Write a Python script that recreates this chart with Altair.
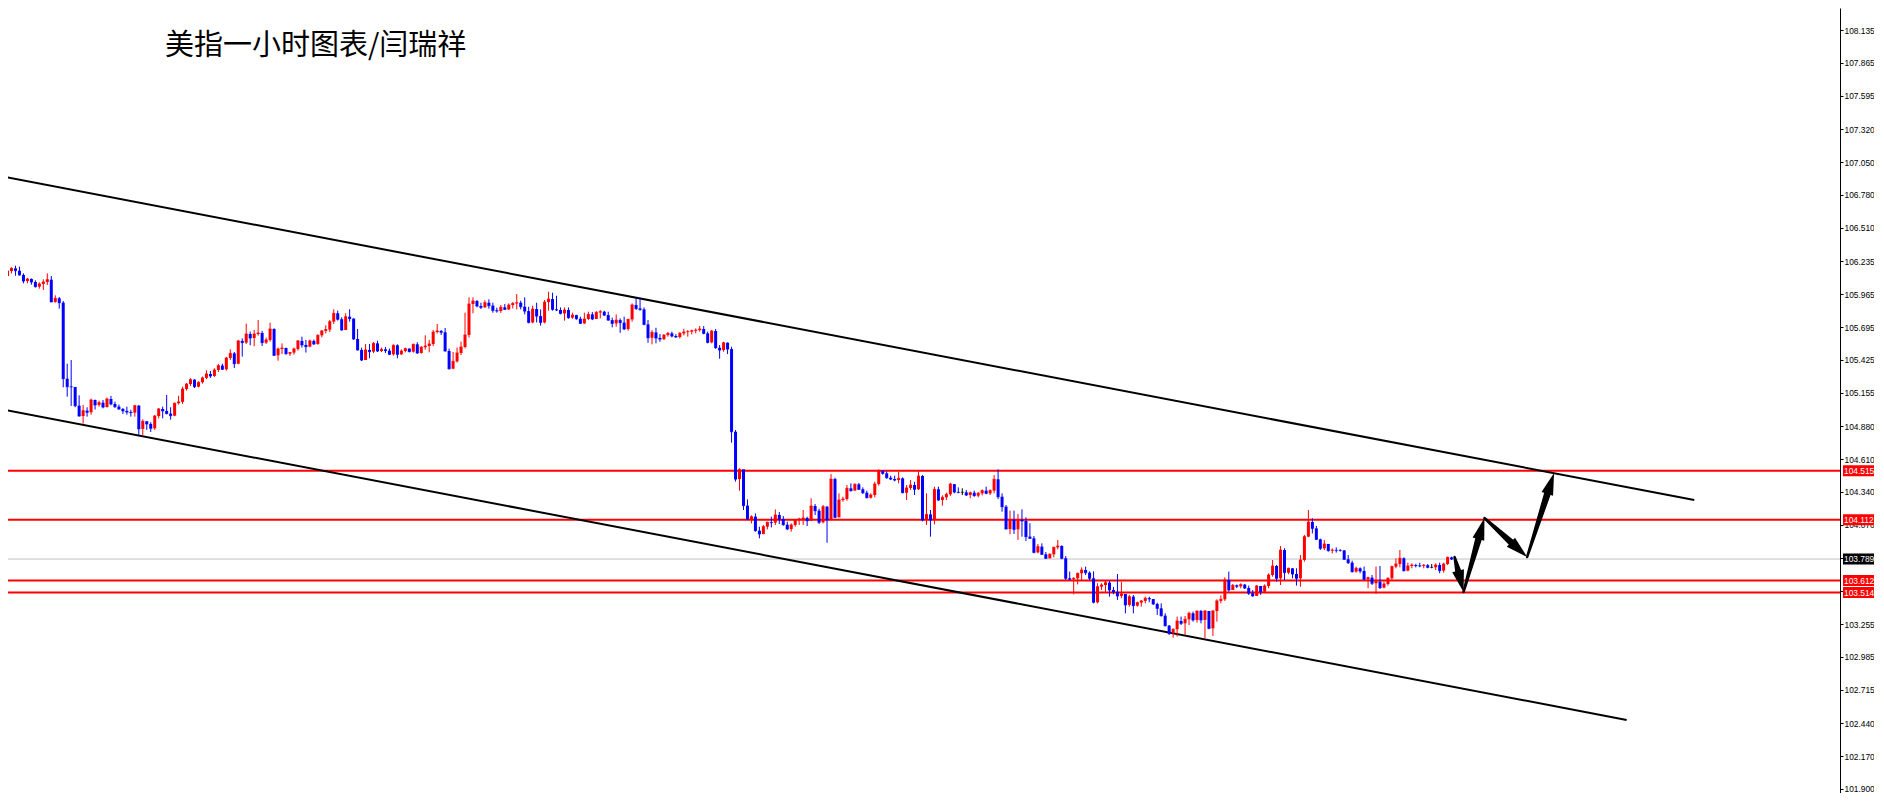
import math
import altair as alt
import pandas as pd

# ---------------- data (USD index, hourly candles) ----------------
first_open = 106.115

close_a = [106.155, 106.177, 106.158, 106.123, 106.073, 106.090, 106.065, 106.027, 106.049, 106.065,
           106.084, 105.901, 105.931, 105.895, 105.271, 105.205, 105.203, 105.049, 104.964, 105.008,
           104.995, 105.096, 105.055, 105.074, 105.038, 105.104, 105.063, 105.041, 105.022, 105.006,
           104.997, 104.992, 105.049, 104.858, 104.921, 104.899, 104.863, 104.964, 105.022, 105.006,
           104.984, 104.967, 105.069, 105.080, 105.186, 105.227, 105.263, 105.205, 105.241, 105.277,
           105.310, 105.293, 105.342, 105.378, 105.348, 105.441, 105.479, 105.394, 105.581, 105.567,
           105.638, 105.605, 105.638, 105.646, 105.567, 105.589, 105.679, 105.463, 105.515, 105.523,
           105.476, 105.485, 105.515, 105.581, 105.548, 105.534, 105.581, 105.556, 105.627, 105.663,
           105.674, 105.739, 105.808, 105.759, 105.671, 105.780, 105.764, 105.597, 105.507, 105.424,
           105.507, 105.493, 105.561, 105.498, 105.512, 105.501, 105.471, 105.545, 105.471, 105.498,
           105.518, 105.493, 105.553, 105.482, 105.529, 105.539, 105.556, 105.654, 105.663, 105.652,
           105.498, 105.353, 105.413, 105.482, 105.531, 105.630, 105.884, 105.909, 105.868, 105.857,
           105.895, 105.871, 105.832, 105.827, 105.857]
high_a = [106.164, 106.186, 106.199, 106.191, 106.136, 106.098, 106.095, 106.079, 106.062, 106.087,
          106.136, 106.114, 105.956, 105.942, 105.909, 105.394, 105.424, 105.200, 105.134, 105.055,
          105.036, 105.107, 105.099, 105.090, 105.096, 105.115, 105.129, 105.082, 105.058, 105.030,
          105.041, 105.016, 105.055, 105.055, 104.937, 104.921, 104.913, 104.973, 105.030, 105.041,
          105.137, 105.036, 105.074, 105.131, 105.205, 105.236, 105.274, 105.266, 105.249, 105.288,
          105.340, 105.334, 105.356, 105.392, 105.394, 105.449, 105.512, 105.490, 105.589, 105.602,
          105.723, 105.657, 105.671, 105.753, 105.663, 105.608, 105.731, 105.685, 105.526, 105.561,
          105.526, 105.490, 105.526, 105.589, 105.616, 105.589, 105.592, 105.592, 105.635, 105.671,
          105.709, 105.753, 105.841, 105.830, 105.775, 105.808, 105.841, 105.767, 105.679, 105.526,
          105.556, 105.556, 105.572, 105.583, 105.526, 105.531, 105.518, 105.553, 105.553, 105.512,
          105.526, 105.520, 105.559, 105.570, 105.539, 105.627, 105.589, 105.671, 105.720, 105.671,
          105.687, 105.518, 105.490, 105.526, 105.575, 105.813, 105.939, 105.939, 105.917, 105.895,
          105.915, 105.923, 105.895, 105.854, 105.876]
low_a = [106.109, 106.136, 106.117, 106.117, 106.054, 106.054, 106.043, 106.019, 106.010, 106.000,
         106.041, 105.901, 105.895, 105.846, 105.200, 105.123, 105.047, 105.036, 104.959, 104.902,
         104.959, 104.975, 105.017, 105.041, 105.027, 105.033, 105.052, 105.030, 105.014, 104.981,
         104.975, 104.959, 104.959, 104.808, 104.808, 104.850, 104.833, 104.850, 104.945, 104.945,
         104.978, 104.934, 104.962, 105.058, 105.063, 105.173, 105.211, 105.194, 105.200, 105.230,
         105.266, 105.277, 105.285, 105.326, 105.342, 105.337, 105.424, 105.359, 105.389, 105.452,
         105.556, 105.545, 105.537, 105.624, 105.539, 105.556, 105.575, 105.457, 105.419, 105.474,
         105.468, 105.457, 105.468, 105.501, 105.526, 105.485, 105.529, 105.548, 105.550, 105.611,
         105.643, 105.654, 105.720, 105.748, 105.665, 105.671, 105.739, 105.589, 105.501, 105.416,
         105.424, 105.438, 105.482, 105.490, 105.490, 105.482, 105.465, 105.460, 105.438, 105.465,
         105.487, 105.487, 105.485, 105.474, 105.476, 105.509, 105.487, 105.539, 105.641, 105.630,
         105.493, 105.345, 105.348, 105.403, 105.465, 105.520, 105.608, 105.808, 105.857, 105.843,
         105.852, 105.846, 105.813, 105.813, 105.811]

close_b = [105.840, 105.876, 105.889, 105.895, 105.862, 105.826, 105.733, 105.843, 105.785, 105.733,
           105.900, 105.925, 105.840, 105.835, 105.807, 105.835, 105.772, 105.793, 105.763, 105.725,
           105.761, 105.799, 105.761, 105.815, 105.821, 105.793, 105.752, 105.725, 105.752, 105.731,
           105.679, 105.758, 105.876, 105.848, 105.840, 105.717, 105.607, 105.651, 105.605, 105.596,
           105.629, 105.643, 105.621, 105.613, 105.643, 105.654, 105.657, 105.665, 105.670, 105.679,
           105.643, 105.569, 105.662, 105.525, 105.506, 105.566, 105.514, 104.835, 104.446, 104.526,
           104.228, 104.118, 104.137, 104.022, 103.995, 104.055, 104.091, 104.088, 104.151, 104.118,
           104.071, 104.036, 104.069, 104.110, 104.118, 104.126, 104.104, 104.225, 104.186, 104.091,
           104.219, 104.110, 104.446, 104.132, 104.274, 104.282, 104.370, 104.351, 104.403, 104.362,
           104.334, 104.293, 104.315, 104.405, 104.515, 104.493, 104.457, 104.446, 104.438, 104.452,
           104.334, 104.373, 104.397, 104.362, 104.471, 104.110, 104.156, 104.110, 104.362, 104.274,
           104.296, 104.321, 104.405, 104.340, 104.337, 104.337, 104.315, 104.334, 104.310, 104.329,
           104.351, 104.329, 104.351, 104.444, 104.301]
high_b = [105.884, 105.889, 105.900, 105.966, 105.911, 105.939, 105.862, 105.870, 105.895, 105.840,
          105.917, 105.985, 105.977, 105.952, 105.856, 105.856, 105.856, 105.813, 105.796, 105.780,
          105.813, 105.821, 105.818, 105.826, 105.835, 105.829, 105.821, 105.772, 105.799, 105.766,
          105.780, 105.763, 105.889, 105.930, 105.930, 105.856, 105.752, 105.670, 105.689, 105.637,
          105.637, 105.654, 105.657, 105.637, 105.654, 105.681, 105.670, 105.673, 105.684, 105.703,
          105.703, 105.657, 105.670, 105.679, 105.547, 105.574, 105.569, 105.533, 104.849, 104.534,
          104.430, 104.279, 104.148, 104.164, 104.055, 104.069, 104.096, 104.137, 104.197, 104.175,
          104.142, 104.096, 104.082, 104.115, 104.129, 104.192, 104.137, 104.288, 104.241, 104.203,
          104.233, 104.225, 104.487, 104.457, 104.329, 104.301, 104.397, 104.411, 104.411, 104.414,
          104.378, 104.351, 104.329, 104.424, 104.526, 104.515, 104.509, 104.474, 104.474, 104.507,
          104.460, 104.397, 104.438, 104.424, 104.515, 104.479, 104.329, 104.192, 104.383, 104.383,
          104.312, 104.334, 104.416, 104.405, 104.378, 104.370, 104.356, 104.343, 104.351, 104.340,
          104.362, 104.383, 104.362, 104.479, 104.526]
low_b = [105.835, 105.835, 105.848, 105.840, 105.840, 105.799, 105.725, 105.725, 105.733, 105.706,
         105.725, 105.829, 105.829, 105.826, 105.799, 105.747, 105.763, 105.763, 105.755, 105.720,
         105.720, 105.752, 105.752, 105.780, 105.766, 105.785, 105.747, 105.692, 105.698, 105.648,
         105.670, 105.665, 105.739, 105.835, 105.829, 105.709, 105.566, 105.553, 105.561, 105.574,
         105.588, 105.616, 105.610, 105.607, 105.602, 105.626, 105.616, 105.635, 105.643, 105.657,
         105.635, 105.561, 105.561, 105.517, 105.435, 105.492, 105.473, 104.745, 104.425, 104.351,
         104.192, 104.110, 104.082, 104.014, 103.959, 103.992, 104.033, 104.049, 104.069, 104.077,
         104.063, 104.027, 104.014, 104.055, 104.069, 104.069, 104.060, 104.104, 104.151, 104.077,
         104.082, 103.923, 104.110, 104.123, 104.132, 104.260, 104.268, 104.343, 104.351, 104.356,
         104.323, 104.288, 104.285, 104.296, 104.392, 104.482, 104.449, 104.438, 104.427, 104.411,
         104.329, 104.274, 104.356, 104.315, 104.356, 104.099, 104.069, 103.973, 104.074, 104.266,
         104.228, 104.274, 104.307, 104.329, 104.329, 104.315, 104.307, 104.288, 104.301, 104.296,
         104.312, 104.321, 104.315, 104.329, 104.282]

close_c = [104.219, 104.036, 104.110, 104.033, 104.110, 104.102, 103.973, 103.959, 103.844, 103.891,
           103.828, 103.795, 103.828, 103.885, 103.896, 103.795, 103.631, 103.623, 103.631, 103.672,
           103.699, 103.677, 103.631, 103.434, 103.562, 103.576, 103.595, 103.535, 103.520, 103.486,
           103.502, 103.412, 103.480, 103.406, 103.431, 103.445, 103.467, 103.461, 103.420, 103.384,
           103.324, 103.242, 103.179, 103.212, 103.280, 103.261, 103.294, 103.343, 103.289, 103.362,
           103.289, 103.362, 103.220, 103.362, 103.445, 103.458, 103.617, 103.535, 103.573, 103.565,
           103.579, 103.551, 103.508, 103.486, 103.568, 103.521, 103.568, 103.658, 103.732, 103.631,
           103.863, 103.677, 103.713, 103.666, 103.631, 103.781, 103.973, 104.093, 104.041, 103.951,
           103.877, 103.913, 103.858, 103.863, 103.861, 103.860, 103.787, 103.759, 103.686, 103.713,
           103.691, 103.623, 103.636, 103.590, 103.603, 103.554, 103.584, 103.631, 103.727, 103.748,
           103.795, 103.694, 103.732, 103.740, 103.735, 103.732, 103.738, 103.721, 103.721, 103.740,
           103.694, 103.748, 103.803, 103.789]
high_c = [104.329, 104.233, 104.187, 104.187, 104.159, 104.197, 104.132, 104.083, 103.978, 103.913,
          103.918, 103.847, 103.836, 103.891, 103.946, 103.902, 103.814, 103.686, 103.639, 103.677,
          103.721, 103.727, 103.688, 103.688, 103.590, 103.590, 103.617, 103.609, 103.560, 103.666,
          103.603, 103.502, 103.494, 103.494, 103.439, 103.453, 103.480, 103.480, 103.458, 103.431,
          103.425, 103.343, 103.247, 103.220, 103.316, 103.316, 103.321, 103.357, 103.357, 103.365,
          103.371, 103.371, 103.308, 103.371, 103.458, 103.491, 103.639, 103.686, 103.584, 103.580,
          103.590, 103.584, 103.571, 103.535, 103.576, 103.562, 103.581, 103.672, 103.781, 103.740,
          103.896, 103.877, 103.718, 103.713, 103.713, 103.822, 103.987, 104.192, 104.124, 104.061,
          103.957, 103.946, 103.913, 103.877, 103.885, 103.870, 103.863, 103.822, 103.776, 103.727,
          103.721, 103.727, 103.644, 103.658, 103.727, 103.732, 103.603, 103.639, 103.735, 103.795,
          103.863, 103.803, 103.759, 103.754, 103.750, 103.759, 103.748, 103.748, 103.748, 103.754,
          103.759, 103.759, 103.809, 103.809]
low_c = [104.178, 104.033, 103.992, 103.995, 103.946, 103.973, 103.937, 103.957, 103.836, 103.836,
         103.822, 103.790, 103.795, 103.803, 103.869, 103.787, 103.617, 103.617, 103.499, 103.581,
         103.617, 103.658, 103.617, 103.425, 103.425, 103.535, 103.513, 103.480, 103.500, 103.453,
         103.467, 103.343, 103.398, 103.343, 103.398, 103.398, 103.425, 103.434, 103.412, 103.330,
         103.316, 103.234, 103.165, 103.143, 103.152, 103.247, 103.165, 103.247, 103.275, 103.267,
         103.261, 103.138, 103.212, 103.157, 103.275, 103.425, 103.445, 103.521, 103.535, 103.550,
         103.549, 103.543, 103.494, 103.480, 103.502, 103.494, 103.508, 103.549, 103.644, 103.603,
         103.576, 103.617, 103.664, 103.631, 103.571, 103.562, 103.768, 103.968, 104.000, 103.946,
         103.863, 103.863, 103.850, 103.836, 103.842, 103.850, 103.781, 103.749, 103.677, 103.677,
         103.672, 103.617, 103.549, 103.576, 103.502, 103.543, 103.549, 103.571, 103.617, 103.713,
         103.721, 103.686, 103.688, 103.713, 103.720, 103.721, 103.713, 103.713, 103.713, 103.699,
         103.672, 103.677, 103.740, 103.781]

# horizontal levels and the current price
level_prices = [104.515, 104.112, 103.612, 103.514]
current_price = 103.789

# channel lines (bar index, price)
chan_i0 = [-0.5, -0.5]
chan_p0 = [106.927, 105.013]
chan_i1 = [424.0, 407.0]
chan_p1 = [104.274, 102.467]

# projected path arrows (bar index, price)
arrow_from_i = [363.75, 366.0, 371.25, 382.0]
arrow_from_p = [103.806, 103.518, 104.126, 103.806]
arrow_to_i = [366.0, 371.25, 382.0, 388.75]
arrow_to_p = [103.518, 104.126, 103.806, 104.496]

tick_values = [108.135, 107.865, 107.595, 107.320, 107.050, 106.780, 106.510, 106.235,
               105.965, 105.695, 105.425, 105.155, 104.880, 104.610, 104.340, 104.070,
               103.800, 103.525, 103.255, 102.985, 102.715, 102.440, 102.170, 101.900]

title_text = "美指一小时图表/闫瑞祥"

# ---------------- layout ----------------
W, H = 1832, 785
X_DOMAIN = [1.375, 459.375]
Y_DOMAIN = [101.867, 108.316]
FONT = "Liberation Sans"
LABEL_SIZE = 8.4

close = close_a + close_b + close_c
high = high_a + high_b + high_c
low = low_a + low_b + low_c
opens = [first_open] + close[:-1]
dirs = ["up" if c > o else ("down" if c < o else "flat") for o, c in zip(opens, close)]
candles = pd.DataFrame({"i": list(range(len(close))), "open": opens, "close": close,
                        "high": high, "low": low, "dir": dirs})

xs = alt.Scale(domain=X_DOMAIN, nice=False, zero=False)
ys = alt.Scale(domain=Y_DOMAIN, nice=False, zero=False)
y_axis = alt.Axis(orient="right", values=tick_values, format=".3f", title=None, grid=False,
                  domain=True, domainColor="#000000", domainWidth=1,
                  ticks=True, tickColor="#000000", tickSize=3, tickWidth=1,
                  labelFont=FONT, labelFontSize=LABEL_SIZE, labelColor="#000000", labelPadding=1,
                  labelAlign="left", labelBaseline="middle", labelOverlap=False,
                  labelBound=False, labelFlush=False)
cscale = alt.Scale(domain=["up", "down", "flat"], range=["#FF0000", "#0000FF", "#000000"])


def X(f):
    return alt.X(f, type="quantitative", scale=xs, axis=None)


def Y(f):
    return alt.Y(f, type="quantitative", scale=ys, axis=y_axis)


base = alt.Chart(candles)
wicks = base.mark_rule(strokeWidth=1).encode(
    x=X("i"), y=Y("low"), y2="high",
    color=alt.Color("dir:N", scale=cscale, legend=None))
bodies = base.mark_bar(size=3, orient="vertical").encode(
    x=X("i"), y=Y("open"), y2="close",
    color=alt.Color("dir:N", scale=cscale, legend=None))
closes = base.mark_tick(orient="horizontal", size=3, thickness=1).encode(
    x=X("i"), y=Y("close"),
    color=alt.Color("dir:N", scale=cscale, legend=None))

cur_df = pd.DataFrame({"price": [current_price]})
cur_line = alt.Chart(cur_df).mark_rule(color="#C0C0C0", strokeWidth=1).encode(
    x=alt.value(0), x2=alt.value(W), y=Y("price"))

lvl_df = pd.DataFrame({"price": level_prices})
lvl_lines = alt.Chart(lvl_df).mark_rule(color="#FF0000", strokeWidth=2).encode(
    x=alt.value(0), x2=alt.value(W), y=Y("price"))

chan_df = pd.DataFrame({"i0": chan_i0, "p0": chan_p0, "i1": chan_i1, "p1": chan_p1})
chan = alt.Chart(chan_df).mark_rule(color="#000000", strokeWidth=2).encode(
    x=X("i0"), x2="i1", y=Y("p0"), y2="p1")

# arrows
ppx = W / (X_DOMAIN[1] - X_DOMAIN[0])
ppy = H / (Y_DOMAIN[1] - Y_DOMAIN[0])
HEAD = 22
trail_rows, head_rows = [], []
for k in range(len(arrow_from_i)):
    dx = (arrow_to_i[k] - arrow_from_i[k]) * ppx
    dy = -(arrow_to_p[k] - arrow_from_p[k]) * ppy
    ln = math.hypot(dx, dy)
    ux, uy = dx / ln, dy / ln
    bi = arrow_to_i[k] - (HEAD - 4) * ux / ppx
    bp = arrow_to_p[k] + (HEAD - 4) * uy / ppy
    trail_rows.append({"a": k, "o": 0, "i": arrow_from_i[k], "p": arrow_from_p[k], "w": 2.5})
    trail_rows.append({"a": k, "o": 1, "i": bi, "p": bp, "w": 7.0})
    ang = math.degrees(math.atan2(dx, -dy)) % 360
    head_rows.append({"i": arrow_to_i[k], "p": arrow_to_p[k], "ang": ang})
trail_df = pd.DataFrame(trail_rows)
head_df = pd.DataFrame(head_rows)
shafts = alt.Chart(trail_df).mark_trail(color="#000000").encode(
    x=X("i"), y=Y("p"), detail="a:N", order="o:Q",
    size=alt.Size("w:Q", scale=None, legend=None))
heads = alt.Chart(head_df).mark_point(
    shape="M0,0L0.55,2L-0.55,2Z", filled=True, size=HEAD * HEAD, color="#000000", opacity=1,
    strokeWidth=0).encode(
    x=X("i"), y=Y("p"), angle=alt.Angle("ang:Q", scale=None))

# price label boxes on the axis
lab_prices = level_prices + [current_price]
lab_bg = ["#FF0000"] * len(level_prices) + ["#000000"]
lab_df = pd.DataFrame({"price": lab_prices, "bg": lab_bg,
                       "txt": [f"{p:.3f}" for p in lab_prices]})
lab_box = alt.Chart(lab_df).mark_tick(orient="horizontal", size=46, thickness=11, opacity=1).encode(
    x=alt.value(W + 26), y=Y("price"), color=alt.Color("bg:N", scale=None, legend=None))
lab_txt = alt.Chart(lab_df).mark_text(align="left", baseline="middle", color="#FFFFFF",
                                       font=FONT, fontSize=LABEL_SIZE).encode(
    x=alt.value(W + 4), y=Y("price"), text="txt:N")

title_df = pd.DataFrame({"t": [title_text]})
title = alt.Chart(title_df).mark_text(align="left", baseline="middle", font="Noto Sans CJK SC",
                                       fontSize=29, color="#000000").encode(
    x=alt.value(157), y=alt.value(38), text="t:N")

chart = alt.layer(cur_line, lvl_lines, chan, wicks, bodies, closes, shafts, heads,
                  lab_box, lab_txt, title).properties(
    width=W, height=H,
    autosize=alt.AutoSizeParams(type="none"),
    padding={"left": 0, "top": 0, "right": 34, "bottom": 0},
    background="#FFFFFF",
).configure_view(stroke=None)

chart.save("out.html", embed_options={"renderer": "svg", "actions": False})
